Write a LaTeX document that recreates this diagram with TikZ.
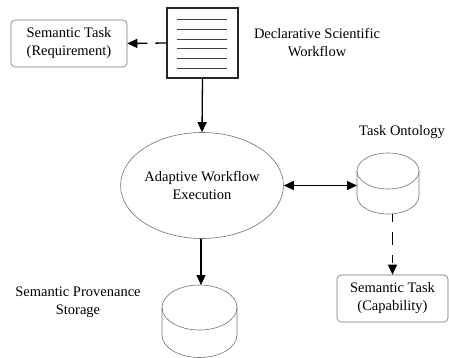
\documentclass[tikz,border=0pt]{standalone}
\usepackage{fontspec}
\setmainfont{Liberation Serif}
\usetikzlibrary{shapes.geometric,arrows.meta,calc}
\begin{document}
\begin{tikzpicture}[x=1pt,y=-1pt,
  every node/.style={font=\fontsize{14.5}{18}\selectfont},
  outl/.style={draw=black!55,line width=0.6pt},
  tbox/.style={outl,rounded corners=4pt,inner sep=0pt,align=center},
  lbl/.style={align=center,inner sep=0pt},
  conn/.style={line width=1.3pt,-{Triangle[length=10pt,width=9pt]}},
  dconn/.style={conn,dash pattern=on 11pt off 8pt},
  hidden/.style={inner sep=0pt,outer sep=0pt}]
\useasboundingbox (0,0) rectangle (449,358);
% declarative workflow document
\node[draw=black!85,line width=1.2pt,fill=white,minimum width=71pt,minimum height=70pt,inner sep=0pt] (doc) at (202.5,43) {};
\foreach \yy in {19,29,39,48,58,68}
  \draw[line width=0.9pt,black!75] (177,\yy) -- (227,\yy);
\node[lbl] (decl) at (317,43) {Declarative Scientific\\Workflow};
% requirement task
\node[tbox,minimum width=116pt,minimum height=47pt] (req) at (69,43.5) {Semantic Task\\(Requirement)};
% execution
\node[ellipse,outl,minimum width=160pt,minimum height=106pt,inner sep=0pt,align=center] (exec) at (202,185.5) {Adaptive Workflow\\Execution};
% task ontology cylinder
\node[hidden,minimum width=62pt,minimum height=61pt] (ont) at (388,183.5) {};
\draw[outl] (388,171) ellipse[x radius=31pt,y radius=18pt];
\draw[outl] (357,171) -- (357,196) arc[start angle=180,end angle=360,x radius=31pt,y radius=18pt] -- (419,171);
\node[lbl] (ontl) at (402,132) {Task Ontology};
% capability task
\node[tbox,minimum width=111pt,minimum height=47pt] (cap) at (392.5,298.5) {Semantic Task\\(Capability)};
% provenance storage cylinder
\node[hidden,minimum width=75pt,minimum height=72pt] (store) at (199.5,321) {};
\draw[outl] (199.5,307.5) ellipse[x radius=37.5pt,y radius=22.5pt];
\draw[outl] (162,307.5) -- (162,335) arc[start angle=180,end angle=360,x radius=37.5pt,y radius=22.5pt] -- (237,307.5);
\node[lbl] (provl) at (78,302.5) {Semantic Provenance\\Storage};
% connectors
\draw[conn] (doc.south) -- (exec.north);
\draw[dconn] (doc.west) -- (req.east);
\draw[line width=1.3pt,{Triangle[length=10pt,width=9pt]}-{Triangle[length=10pt,width=9pt]}] (exec.east) -- (exec.east -| ont.west);
\draw[dconn,dash pattern=on 8pt off 10pt on 13pt off 10pt] (ont.south -| cap.north) -- (cap.north);
\draw[conn] (exec.south -| 201,0) -- (store.north -| 201,0);
\end{tikzpicture}
\end{document}
